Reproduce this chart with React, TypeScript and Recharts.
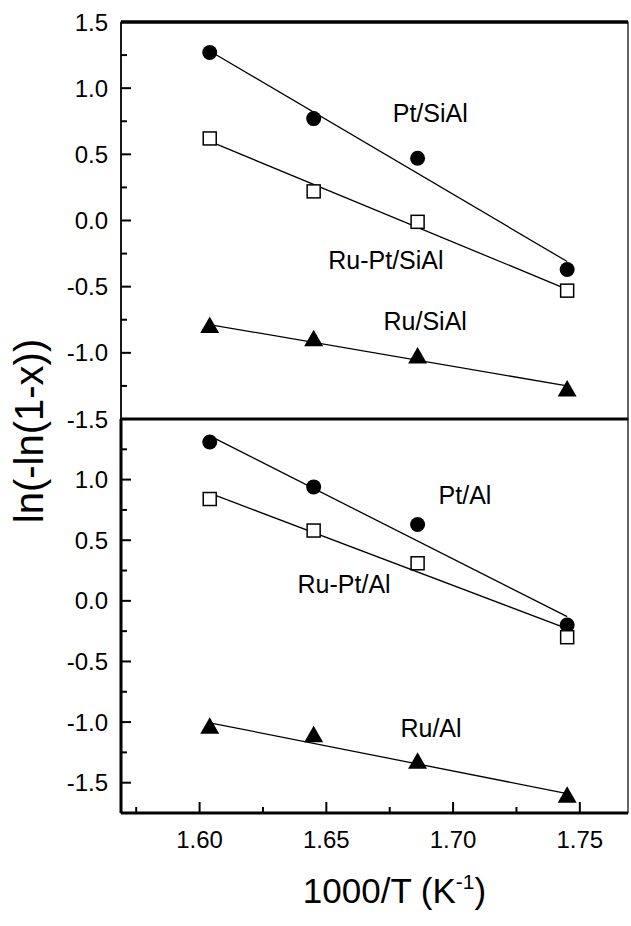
import React from 'react';
import { ScatterChart, Scatter, XAxis, YAxis, Label, ReferenceArea, ReferenceLine } from 'recharts';

// 1000/T values of the four measurement temperatures
const invT = [1.604, 1.645, 1.686, 1.745];
const fitX = [1.605, 1.745];

// upper panel (SiAl support)
const ptSiAl = [1.27, 0.77, 0.47, -0.37];
const ruPtSiAl = [0.62, 0.22, -0.01, -0.53];
const ruSiAl = [-0.79, -0.89, -1.02, -1.27];
const ptSiAlFit = [1.27, -0.31];
const ruPtSiAlFit = [0.59, -0.52];
const ruSiAlFit = [-0.79, -1.25];

// lower panel (Al support)
const ptAl = [1.31, 0.94, 0.63, -0.2];
const ruPtAl = [0.84, 0.58, 0.31, -0.3];
const ruAl = [-1.03, -1.1, -1.32, -1.6];
const ptAlFit = [1.35, -0.13];
const ruPtAlFit = [0.88, -0.23];
const ruAlFit = [-1.01, -1.59];

const topNames = ['Pt/SiAl', 'Ru-Pt/SiAl', 'Ru/SiAl'];
const topNameX = [1.691, 1.6735, 1.689];
const topNameY = [0.81, -0.3, -0.763];
const bottomNames = ['Pt/Al', 'Ru-Pt/Al', 'Ru/Al'];
const bottomNameX = [1.7047, 1.657, 1.6913];
const bottomNameY = [0.873, 0.139, -1.045];

const xTicks = [1.575, 1.6, 1.625, 1.65, 1.675, 1.7, 1.725, 1.75];
const topYTicks = [-1.5, -1.25, -1, -0.75, -0.5, -0.25, 0, 0.25, 0.5, 0.75, 1, 1.25, 1.5];
const bottomYTicks = [-1.5, -1.25, -1, -0.75, -0.5, -0.25, 0, 0.25, 0.5, 0.75, 1, 1.25];

const X_DOMAIN: [number, number] = [1.569, 1.769];
const FONT = 'Arial, "Liberation Sans", sans-serif';

const pts = (xs: number[], ys: number[]) => xs.map((x, i) => ({ x, y: ys[i] }));
const names = (xs: number[], ys: number[], n: string[]) =>
  n.map((name, i) => ({ x: xs[i], y: ys[i], name }));

const DotShape = (p: any) => <circle cx={p.cx} cy={p.cy} r={7.5} fill="#000" />;
const SquareShape = (p: any) => (
  <rect x={p.cx - 6.5} y={p.cy - 6.5} width={13} height={13} fill="#fff" stroke="#000" strokeWidth={1.5} />
);
const TriangleShape = (p: any) => (
  <path d={`M${p.cx},${p.cy - 8.5}L${p.cx + 9.5},${p.cy + 8}L${p.cx - 9.5},${p.cy + 8}Z`} fill="#000" />
);
const NoShape = () => <g />;
const NameShape = (p: any) => (
  <text x={p.cx} y={p.cy} textAnchor="middle" dominantBaseline="central" fontSize={25} fontFamily={FONT} fill="#000">
    {p.payload.name}
  </text>
);

function YTick(props: any) {
  const { x, y, payload } = props;
  const v = payload.value;
  const major = Math.abs(v * 2 - Math.round(v * 2)) < 1e-6;
  return (
    <g>
      <line x1={x} x2={x + (major ? 10 : 6)} y1={y} y2={y} stroke="#000" strokeWidth={2} />
      {major && (
        <text x={x - 13} y={y} textAnchor="end" dominantBaseline="central" fontSize={24} fontFamily={FONT} fill="#000">
          {v.toFixed(1)}
        </text>
      )}
    </g>
  );
}

function XTick(props: any) {
  const { x, y, payload, showLabel } = props;
  const v = payload.value;
  const major = Math.abs(v * 20 - Math.round(v * 20)) < 1e-6;
  return (
    <g>
      <line x1={x} x2={x} y1={y} y2={y - (major ? 11 : 6)} stroke="#000" strokeWidth={2} />
      {showLabel && major && (
        <text x={x} y={y + 35} textAnchor="middle" fontSize={24} fontFamily={FONT} fill="#000">
          {v.toFixed(2)}
        </text>
      )}
    </g>
  );
}

const XTitle = (props: any) => {
  const vb = props.viewBox;
  return (
    <text x={vb.x + vb.width / 2 + 20} y={vb.y + 90} textAnchor="middle" fontSize={35} fontFamily={FONT} fill="#000">
      <tspan>1000/T (K</tspan>
      <tspan dy={-14} fontSize={21}>-1</tspan>
      <tspan dy={14}>)</tspan>
    </text>
  );
};

const YTitle = (props: any) => {
  const vb = props.viewBox;
  const x = vb.x + 43;
  const y = vb.y + 12;
  return (
    <text x={x} y={y} transform={`rotate(-90 ${x} ${y})`} textAnchor="middle" fontSize={40} fontFamily={FONT} fill="#000">
      ln(-ln(1-x))
    </text>
  );
};

function Panel({ height, margin, yDomain, yTicks, series, labels, bottom }: any) {
  return (
    <ScatterChart width={631} height={height} margin={margin}>
      <XAxis
        dataKey="x"
        type="number"
        domain={X_DOMAIN}
        ticks={xTicks}
        interval={0}
        height={bottom ? 113 : 0}
        tickSize={0}
        tickMargin={0}
        axisLine={{ stroke: '#000', strokeWidth: 3 }}
        tickLine={false}
        tick={(p: any) => <XTick {...p} showLabel={bottom} />}
      >
        {bottom && <Label content={XTitle} />}
      </XAxis>
      <YAxis
        dataKey="y"
        type="number"
        domain={yDomain}
        ticks={yTicks}
        interval={0}
        width={121}
        tickSize={0}
        tickMargin={0}
        axisLine={{ stroke: '#000', strokeWidth: bottom ? 3 : 1.5 }}
        tickLine={false}
        tick={YTick}
      >
        {bottom && <Label content={YTitle} />}
      </YAxis>
      {/* plot frame */}
      <ReferenceArea
        x1={X_DOMAIN[0]}
        x2={X_DOMAIN[1]}
        y1={yDomain[0]}
        y2={yDomain[1]}
        fill="none"
        fillOpacity={0}
        stroke="#000"
        strokeWidth={1.2}
        ifOverflow="visible"
      />
      {!bottom && <ReferenceLine y={yDomain[1]} stroke="#000" strokeWidth={3.5} ifOverflow="visible" />}
      {!bottom && <ReferenceLine y={yDomain[0]} stroke="#000" strokeWidth={3} ifOverflow="visible" />}
      {series.map((s: any, i: number) => (
        <Scatter
          key={'fit' + i}
          data={pts(fitX, s.fit)}
          line={{ stroke: '#000', strokeWidth: 1.3 }}
          shape={NoShape}
          isAnimationActive={false}
        />
      ))}
      {series.map((s: any, i: number) => (
        <Scatter key={'pt' + i} data={pts(invT, s.values)} shape={s.shape} isAnimationActive={false} />
      ))}
      <Scatter data={labels} shape={NameShape} isAnimationActive={false} />
    </ScatterChart>
  );
}

export default function App() {
  const topSeries = [
    { values: ptSiAl, fit: ptSiAlFit, shape: DotShape },
    { values: ruPtSiAl, fit: ruPtSiAlFit, shape: SquareShape },
    { values: ruSiAl, fit: ruSiAlFit, shape: TriangleShape },
  ];
  const bottomSeries = [
    { values: ptAl, fit: ptAlFit, shape: DotShape },
    { values: ruPtAl, fit: ruPtAlFit, shape: SquareShape },
    { values: ruAl, fit: ruAlFit, shape: TriangleShape },
  ];
  return (
    <div style={{ position: 'absolute', left: 0, top: 0, width: 631, height: 926, background: '#fff' }}>
      <div style={{ position: 'absolute', left: 0, top: 0 }}>
        <Panel
          height={450}
          margin={{ top: 22, right: 3, bottom: 31, left: 0 }}
          yDomain={[-1.5, 1.5]}
          yTicks={topYTicks}
          series={topSeries}
          labels={names(topNameX, topNameY, topNames)}
          bottom={false}
        />
      </div>
      <div style={{ position: 'absolute', left: 0, top: 0 }}>
        <Panel
          height={926}
          margin={{ top: 419, right: 3, bottom: 0, left: 0 }}
          yDomain={[-1.75, 1.5]}
          yTicks={bottomYTicks}
          series={bottomSeries}
          labels={names(bottomNameX, bottomNameY, bottomNames)}
          bottom={true}
        />
      </div>
    </div>
  );
}
